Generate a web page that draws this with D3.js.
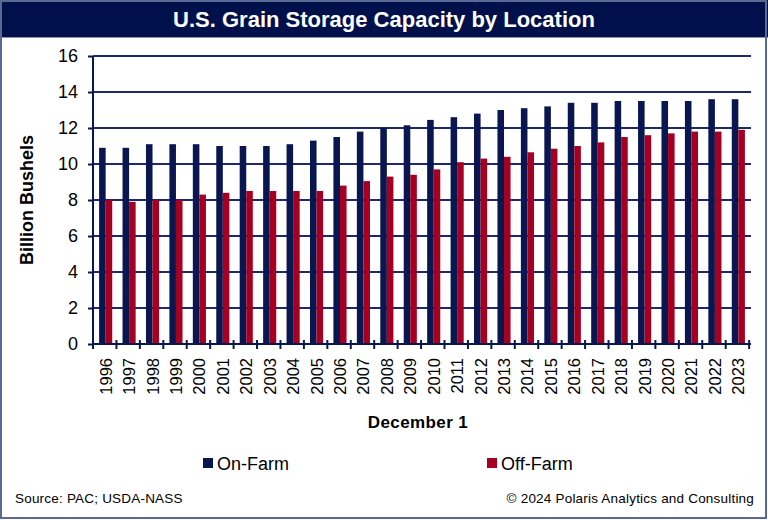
<!DOCTYPE html>
<html>
<head>
<meta charset="utf-8">
<script src="https://cdn.jsdelivr.net/npm/d3@7"></script>
<style>
  body { margin: 0; background: #fff; }
  svg { display: block; font-family: Arial, "Liberation Sans", sans-serif; }
</style>
</head>
<body>
<div id="chart"></div>
<script>
// Data (billion bushels, December 1)
var years = ["1996", "1997", "1998", "1999", "2000", "2001", "2002", "2003", "2004", "2005",
  "2006", "2007", "2008", "2009", "2010", "2011", "2012", "2013", "2014", "2015",
  "2016", "2017", "2018", "2019", "2020", "2021", "2022", "2023"];
var onFarm = [10.9, 10.9, 11.1, 11.1, 11.1, 11.0, 11.0, 11.0, 11.1, 11.3,
  11.5, 11.8, 12.0, 12.15, 12.45, 12.6, 12.8, 13.0, 13.1, 13.2,
  13.4, 13.4, 13.5, 13.5, 13.5, 13.5, 13.6, 13.6];
var offFarm = [8.0, 7.9, 8.0, 8.0, 8.3, 8.4, 8.5, 8.5, 8.5, 8.5,
  8.8, 9.05, 9.3, 9.4, 9.7, 10.1, 10.3, 10.4, 10.65, 10.85,
  11.0, 11.2, 11.5, 11.6, 11.7, 11.8, 11.8, 11.9];
var seriesNames = ["On-Farm", "Off-Farm"];
var seriesColors = ["#0a1650", "#a50021"];
var yTicks = [0, 2, 4, 6, 8, 10, 12, 14, 16];

var svgWidth = 768;
var svgHeight = 520;

var chartMargin = { top: 56, right: 17, bottom: 176, left: 93 };
var chartWidth = svgWidth - chartMargin.left - chartMargin.right;
var chartHeight = svgHeight - chartMargin.top - chartMargin.bottom;

var navy = "#0a1650";

var svg = d3.select("#chart")
  .append("svg")
  .attr("width", svgWidth)
  .attr("height", svgHeight);

// Title bar and frame
svg.append("rect")
  .attr("x", 0).attr("y", 0)
  .attr("width", svgWidth).attr("height", 37)
  .attr("fill", "#00104a");

svg.append("line")
  .attr("x1", 0).attr("x2", svgWidth)
  .attr("y1", 37.5).attr("y2", 37.5)
  .attr("stroke", "#8a94b8");

svg.append("rect")
  .attr("x", 1).attr("y", 1)
  .attr("width", svgWidth - 3).attr("height", svgHeight - 3)
  .attr("fill", "none")
  .attr("stroke", "#5a6894")
  .attr("stroke-width", 2);

svg.append("text")
  .attr("x", svgWidth / 2)
  .attr("y", 27)
  .attr("text-anchor", "middle")
  .attr("fill", "#fff")
  .attr("font-weight", "bold")
  .attr("font-size", "22px")
  .text("U.S. Grain Storage Capacity by Location");

var chartGroup = svg.append("g")
  .attr("transform", `translate(${chartMargin.left}, ${chartMargin.top})`);

// Scales
var xBandScale = d3.scaleBand()
  .domain(years)
  .range([0, chartWidth])
  .paddingInner(0.44)
  .paddingOuter(0.26);

var xSeries = d3.scaleBand()
  .domain(seriesNames)
  .range([0, xBandScale.bandwidth()]);

var yLinearScale = d3.scaleLinear()
  .domain([0, 16])
  .range([chartHeight, 0]);

// Gridlines
chartGroup.append("g")
  .selectAll("line")
  .data(yTicks.filter(d => d > 0))
  .enter()
  .append("line")
  .attr("x1", 0)
  .attr("x2", chartWidth)
  .attr("y1", d => yLinearScale(d))
  .attr("y2", d => yLinearScale(d))
  .attr("stroke", "#1c2870")
  .attr("stroke-width", 2);

// Bars
var rows = years.map((y, i) => ({ year: y, values: [onFarm[i], offFarm[i]] }));

var groups = chartGroup.selectAll(".year")
  .data(rows)
  .enter()
  .append("g")
  .attr("transform", d => `translate(${xBandScale(d.year)}, 0)`);

groups.selectAll("rect")
  .data(d => d.values.map((v, j) => ({ name: seriesNames[j], value: v, color: seriesColors[j] })))
  .enter()
  .append("rect")
  .attr("x", d => xSeries(d.name))
  .attr("y", d => yLinearScale(d.value))
  .attr("width", xSeries.bandwidth())
  .attr("height", d => chartHeight - yLinearScale(d.value))
  .attr("fill", d => d.color);

// Axes
var leftAxis = d3.axisLeft(yLinearScale)
  .tickValues(yTicks)
  .tickSize(5)
  .tickPadding(10);

var yAxisG = chartGroup.append("g").call(leftAxis);
yAxisG.select(".domain").attr("stroke", navy).attr("stroke-width", 2).attr("d", `M0,${chartHeight}V0`);
yAxisG.selectAll(".tick line").attr("stroke", navy).attr("stroke-width", 2);
yAxisG.selectAll(".tick text")
  .attr("font-size", "18px")
  .attr("fill", "#000")
  .attr("font-family", "Arial, 'Liberation Sans', sans-serif");

// x axis: line with crossing ticks at category boundaries
var step = xBandScale.step();
var boundaries = d3.range(years.length + 1).map(i => i * step);

var xAxisG = chartGroup.append("g")
  .attr("transform", `translate(0, ${chartHeight})`);

xAxisG.append("line")
  .attr("x1", 0).attr("x2", chartWidth)
  .attr("y1", 0).attr("y2", 0)
  .attr("stroke", navy)
  .attr("stroke-width", 2);

xAxisG.selectAll(".bt")
  .data(boundaries)
  .enter()
  .append("line")
  .attr("x1", d => d).attr("x2", d => d)
  .attr("y1", -4).attr("y2", 5)
  .attr("stroke", navy)
  .attr("stroke-width", 2);

xAxisG.selectAll(".xl")
  .data(years)
  .enter()
  .append("text")
  .attr("transform", d => `translate(${xBandScale(d) + xBandScale.bandwidth() / 2 + 6}, 14) rotate(-90)`)
  .attr("text-anchor", "end")
  .attr("font-size", "16.5px")
  .attr("fill", "#000")
  .text(d => d);

// Axis titles
svg.append("text")
  .attr("transform", "translate(33, 200) rotate(-90)")
  .attr("text-anchor", "middle")
  .attr("font-weight", "bold")
  .attr("font-size", "18px")
  .text("Billion Bushels");

svg.append("text")
  .attr("x", 418)
  .attr("y", 428)
  .attr("text-anchor", "middle")
  .attr("font-weight", "bold")
  .attr("font-size", "17px")
  .attr("letter-spacing", "0.4px")
  .text("December 1");

// Legend
var legendX = [203, 487];
var legend = svg.selectAll(".legend")
  .data(seriesNames)
  .enter()
  .append("g")
  .attr("transform", (d, i) => `translate(${legendX[i]}, 458)`);

legend.append("rect")
  .attr("width", 10).attr("height", 10)
  .attr("fill", (d, i) => seriesColors[i]);

legend.append("text")
  .attr("x", 14)
  .attr("y", 12)
  .attr("font-size", "18px")
  .text(d => d);

// Footer
svg.append("text")
  .attr("x", 15)
  .attr("y", 503)
  .attr("font-size", "13.5px")
  .attr("letter-spacing", "0.2px")
  .text("Source:  PAC; USDA-NASS");

svg.append("text")
  .attr("x", 754)
  .attr("y", 503)
  .attr("text-anchor", "end")
  .attr("font-size", "13.5px")
  .attr("letter-spacing", "0.2px")
  .text("\u00a9 2024  Polaris Analytics and Consulting");
</script>
</body>
</html>
